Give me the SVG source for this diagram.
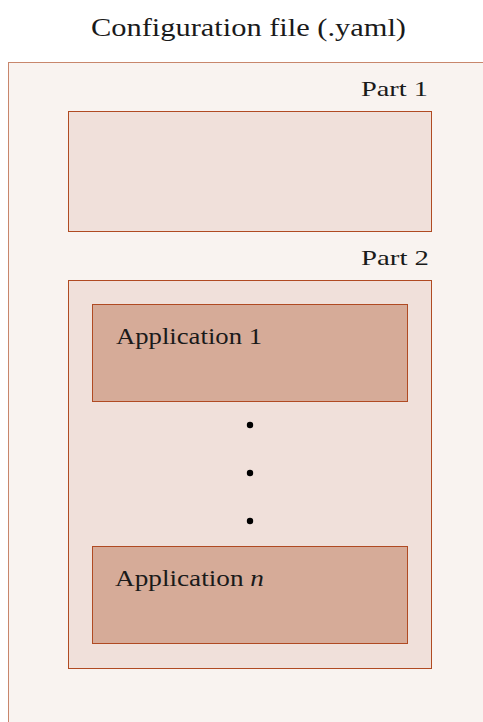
<svg xmlns="http://www.w3.org/2000/svg" width="483" height="722" viewBox="0 0 483 722">
  <style>
    text { font-family: "Liberation Serif", "DejaVu Serif", serif; fill: #1a1a1a; }
    .title { font-size: 25px; }
    .part { font-size: 22px; text-anchor: end; }
    .app { font-size: 23px; }
    .outer { fill: #f9f3f0; stroke: #c8866c; stroke-width: 1; }
    .section { fill: #f0e0da; stroke: #b04a22; stroke-width: 1; }
    .appbox { fill: #d6ab98; stroke: #b04a22; stroke-width: 1; }
  </style>
  <rect width="483" height="722" fill="#ffffff"/>
  <text class="title" x="91" y="36" textLength="315" lengthAdjust="spacingAndGlyphs">Configuration file (.yaml)</text>
  <g id="config-file">
    <rect class="outer" x="8.5" y="62.5" width="480" height="670"/>
  </g>
  <g id="part1">
    <text class="part" x="428" y="96" textLength="67" lengthAdjust="spacingAndGlyphs">Part 1</text>
    <rect class="section" x="68.5" y="111.5" width="363" height="120"/>
  </g>
  <g id="part2">
    <text class="part" x="429" y="265" textLength="68" lengthAdjust="spacingAndGlyphs">Part 2</text>
    <rect class="section" x="68.5" y="280.5" width="363" height="388"/>
  </g>
  <g id="app1">
    <rect class="appbox" x="92.5" y="304.5" width="315" height="97"/>
    <text class="app" x="116" y="344" textLength="146" lengthAdjust="spacingAndGlyphs">Application 1</text>
  </g>
  <g id="ellipsis">
    <circle cx="250" cy="425" r="3.2" fill="#000"/>
    <circle cx="250" cy="473" r="3.2" fill="#000"/>
    <circle cx="250" cy="521" r="3.2" fill="#000"/>
  </g>
  <g id="appn">
    <rect class="appbox" x="92.5" y="546.5" width="315" height="97"/>
    <text class="app" x="115" y="586" textLength="149" lengthAdjust="spacingAndGlyphs">Application <tspan font-style="italic">n</tspan></text>
  </g>
  <g id="connectors"/>
</svg>
